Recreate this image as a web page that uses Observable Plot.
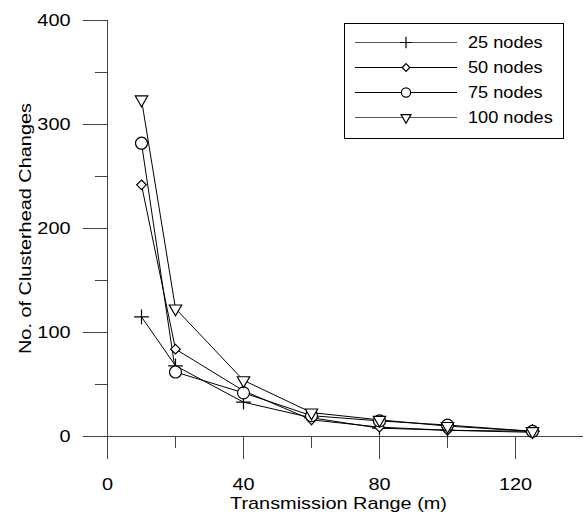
<!DOCTYPE html>
<html>
<head>
<meta charset="utf-8">
<script src="https://cdn.jsdelivr.net/npm/d3@7"></script>
<script src="https://cdn.jsdelivr.net/npm/@observablehq/plot@0.6"></script>
<style>
  body { margin: 0; background: #fff; }
  #wrap { position: relative; width: 584px; height: 517px; }
  #legend { position: absolute; left: 0; top: 0; }
  text { font-family: "Liberation Sans", Arial, sans-serif; }
</style>
</head>
<body>
<div id="wrap"></div>
<script>
const ranges = [10, 20, 40, 60, 80, 100, 125];
const seriesNames = ["25 nodes", "50 nodes", "75 nodes", "100 nodes"];
const nodes25  = [115, 68, 33, 18, 8, 6, 5];
const nodes50  = [242, 84, 44, 16, 9, 6, 4];
const nodes75  = [282, 62, 42, 20, 15, 11, 5];
const nodes100 = [324, 123, 54, 23, 16, 10, 5];
const xMajorTicks = [0, 40, 80, 120];
const xMinorTicks = [20, 60, 100];
const yMajorTicks = [0, 100, 200, 300, 400];
const yMinorTicks = [50, 150, 250, 350];
const xTitle = "Transmission Range (m)";
const yTitle = "No. of Clusterhead Changes";

const seriesValues = [nodes25, nodes50, nodes75, nodes100];
const symbols = ["plus", "diamond2", "circle", "triangle"];
const rotations = [0, 0, 0, 180];
const radii = [4.8, 4.3, 6, 4.6];

const data = [];
seriesNames.forEach((s, i) => ranges.forEach((x, j) => data.push({series: s, x, y: seriesValues[i][j]})));

const font = '"Liberation Sans", Arial, sans-serif';
const axisStroke = "#444";
const FS = 17;
const marks = [
  // axis lines
  Plot.ruleY([0], {stroke: axisStroke, insetLeft: -24}),
  Plot.ruleX([0], {stroke: axisStroke}),
  // x ticks (downward from the x axis)
  Plot.ruleX(xMajorTicks, {x: d => d, y1: 0, y2: 0, insetBottom: -23, stroke: axisStroke}),
  Plot.ruleX(xMinorTicks, {x: d => d, y1: 0, y2: 0, insetBottom: -12, stroke: axisStroke}),
  Plot.axisX({ticks: xMajorTicks, tickSize: 23, tickPadding: 18, stroke: "none", fill: "black", fontSize: FS, label: null}),
  // y ticks (leftward from the y axis)
  Plot.ruleY(yMajorTicks, {y: d => d, x1: 0, x2: 0, insetLeft: -24, stroke: axisStroke}),
  Plot.ruleY(yMinorTicks, {y: d => d, x1: 0, x2: 0, insetLeft: -12, stroke: axisStroke}),
  Plot.axisY({ticks: yMajorTicks, tickSize: 24, tickPadding: 13, stroke: "none", fill: "black", fontSize: FS, label: null}),
  // titles
  Plot.text([xTitle], {text: d => d, frameAnchor: "bottom", dx: -7, dy: 67, fontSize: FS, lineAnchor: "middle", textAnchor: "middle", fill: "black"}),
  Plot.text([yTitle], {text: d => d, frameAnchor: "left", dx: -82, rotate: -90, fontSize: FS, lineAnchor: "middle", textAnchor: "middle", fill: "black"}),
  Plot.line(data, {x: "x", y: "y", z: "series", stroke: "black", strokeWidth: 1})
];
seriesNames.forEach((s, i) => {
  marks.push(Plot.dot(data.filter(d => d.series === s), {
    x: "x", y: "y", symbol: () => symbols[i], r: radii[i], rotate: rotations[i],
    stroke: "black", strokeWidth: 1.2, fill: i === 0 ? "none" : "white"
  }));
});

const chart = Plot.plot({
  width: 584, height: 517,
  marginLeft: 107, marginRight: 1, marginTop: 20, marginBottom: 81,
  style: {fontFamily: font, fontSize: FS + "px", background: "white", overflow: "visible"},
  x: {domain: [0, 140]},
  y: {domain: [0, 400]},
  marks
});
const wrap = document.getElementById("wrap");
wrap.appendChild(chart);

// the reference text is drawn slightly wider than the font's natural width
function stretch(sel, factor) {
  sel.each(function() {
    const len = this.getComputedTextLength();
    if (len > 0) {
      this.setAttribute("textLength", (len * factor).toFixed(1));
      this.setAttribute("lengthAdjust", "spacingAndGlyphs");
    }
  });
}
stretch(d3.select(chart).selectAll("text"), 1.17);

// Legend
const lg = d3.select(wrap).append("svg").attr("id", "legend").attr("width", 584).attr("height", 517);
lg.append("rect").attr("x", 344.5).attr("y", 23.5).attr("width", 219).attr("height", 115)
  .attr("fill", "white").attr("stroke", "black").attr("stroke-width", 1);
const symMap = {plus: d3.symbolPlus, diamond2: d3.symbolDiamond2, circle: d3.symbolCircle, triangle: d3.symbolTriangle};
seriesNames.forEach((s, i) => {
  const y = 42 + i * 25;
  lg.append("line").attr("x1", 355).attr("x2", 457).attr("y1", y + 0.5).attr("y2", y + 0.5)
    .attr("stroke", i === 0 || i === 3 ? "#555" : "black");
  const r = i === 2 ? 4.6 : radii[i] * 0.8;
  lg.append("path").attr("d", d3.symbol(symMap[symbols[i]], Math.PI * r * r)())
    .attr("transform", `translate(406,${y + 0.5}) rotate(${rotations[i]})`)
    .attr("fill", i === 0 ? "none" : "white").attr("stroke", "black").attr("stroke-width", 1.2);
  lg.append("text").attr("x", 468).attr("y", y).attr("dy", "0.36em").attr("font-size", 16.5)
    .attr("font-family", font).attr("fill", "black").text(s);
});
stretch(lg.selectAll("text"), 1.1);
</script>
</body>
</html>
